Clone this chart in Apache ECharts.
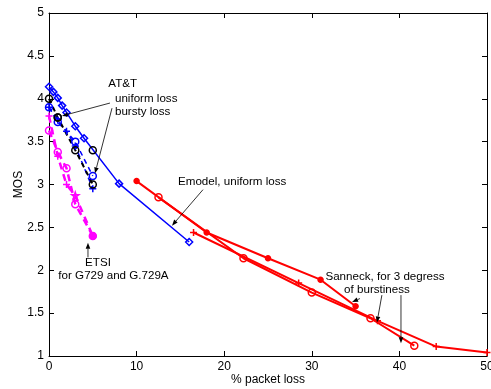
<!DOCTYPE html>
<html><head><meta charset="utf-8">
<script src="https://cdn.jsdelivr.net/npm/echarts@6/dist/echarts.min.js"></script>
<style>html,body{margin:0;padding:0;background:#fff}#c{width:491px;height:389px}</style>
</head><body><div id="c"></div>
<script>
// Axis ticks
const xTicks = [0, 10, 20, 30, 40, 50];
const yTicks = [1, 1.5, 2, 2.5, 3, 3.5, 4, 4.5, 5];

// E-model, uniform loss
const emodel = [[0,4.14],[0.5,4.08],[1,4.01],[1.5,3.92],[2,3.84],[3,3.68],[4,3.54],[8,3.01],[16,2.33]];
// AT&T measurements
const attUniform = [[0,4.0],[1,3.78],[3,3.4],[5,3.0]];
const attExtra = [[1,3.78],[5,3.4]];
const attBurstyA = [[0,3.9],[1,3.73],[3,3.5],[5,3.1]];
const attBurstyB = [[0,3.9],[1,3.75],[2,3.62],[3,3.45],[5,2.95]];
// ETSI, G.729 / G.729A
const etsiA = [[0,3.63],[1,3.38],[2,3.19],[3,2.77],[5,2.4]];
const etsiB = [[0,3.8],[1,3.33],[2,3.0],[3,2.87],[5,2.4]];
// Sanneck, three degrees of burstiness
const sanneckA = [[10,3.04],[18,2.44],[25,2.14],[31,1.89],[35,1.58]];
const sanneckB = [[12.5,2.85],[22.2,2.14],[30,1.74],[36.7,1.44],[41.7,1.12]];
const sanneckC = [[16.5,2.44],[28.5,1.85],[37.5,1.41],[44.2,1.11],[50,1.04]];

const PLUS = 'path://M0,5H10M5,0V10';
const STAR = 'path://M5,0L6.2,3.6L10,3.6L6.9,5.9L8.1,9.5L5,7.3L1.9,9.5L3.1,5.9L0,3.6L3.8,3.6Z';
const FONT = 'Liberation Sans, Arial, sans-serif';

function ser(data, color, dash, width, symbol, size, filled) {
  return {
    type: 'line', data: data, symbol: symbol, symbolSize: size,
    showSymbol: symbol !== 'none', animation: false, silent: true,
    lineStyle: { color: color, width: width, type: dash },
    itemStyle: { color: filled ? color : 'none', borderColor: color, borderWidth: 1.5 },
    z: 3
  };
}
function pts(data, color, symbol, size) {
  const s = ser(data, color, 'solid', 0, symbol, size, false);
  s.lineStyle.opacity = 0;
  return s;
}

const RED = '#ff0000', BLUE = '#0000ff', MAG = '#ff00ff', BLK = '#000000';

const etsiBData = etsiB.map((p, i) => i === 3 ? { value: p, symbol: STAR, symbolSize: 7 } : p);

const series = [
  ser(sanneckA, RED, 'solid', 2, 'circle', 5, true),
  ser(sanneckB, RED, 'solid', 2, 'circle', 7, false),
  ser(sanneckC, RED, 'solid', 2, PLUS, 7, false),
  ser(emodel, BLUE, 'solid', 1.5, 'diamond', 7, false),
  ser(attBurstyA, BLUE, [5, 4], 1.5, 'circle', 7, false),
  ser(attBurstyB, BLUE, [5, 4], 1.5, PLUS, 7, false),
  ser(attUniform, BLK, [5, 4], 2, 'circle', 7, false),
  pts(attExtra, BLK, 'circle', 7),
  ser(etsiA, MAG, [7, 5], 2.5, 'circle', 7, false),
  ser(etsiBData, MAG, [7, 5], 2.5, PLUS, 7, false),
  pts([[5, 2.4]], MAG, 'circle', 6)
];
series[series.length - 1].itemStyle.color = MAG;

const axisCommon = {
  type: 'value', splitLine: { show: false },
  axisLine: { show: true, onZero: false, lineStyle: { color: '#000', width: 1 } },
  axisTick: { show: true, inside: true, length: 5, lineStyle: { color: '#000' } }
};

const chart = echarts.init(document.getElementById('c'), null, { renderer: 'canvas' });
chart.setOption({
  backgroundColor: '#fff',
  animation: false,
  grid: { left: 49, right: 4, top: 13, bottom: 33, containLabel: false, outerBoundsMode: 'none' },
  xAxis: [
    Object.assign({}, axisCommon, {
      min: xTicks[0], max: xTicks[xTicks.length - 1], interval: 10, position: 'bottom',
      name: '% packet loss', nameLocation: 'middle', nameGap: 18, nameMoveOverlap: false,
      nameTextStyle: { fontFamily: FONT, fontSize: 12, color: '#000' },
      axisLabel: { fontFamily: FONT, fontSize: 12, color: '#000', margin: 5 }
    }),
    Object.assign({}, axisCommon, {
      min: xTicks[0], max: xTicks[xTicks.length - 1], interval: 10, position: 'top',
      axisLabel: { show: false }
    })
  ],
  yAxis: [
    Object.assign({}, axisCommon, {
      min: yTicks[0], max: yTicks[yTicks.length - 1], interval: 0.5, position: 'left',
      name: 'MOS', nameLocation: 'middle', nameGap: 24, nameMoveOverlap: false,
      nameTextStyle: { fontFamily: FONT, fontSize: 12, color: '#000' },
      axisLabel: { fontFamily: FONT, fontSize: 12, color: '#000', margin: 5 }
    }),
    Object.assign({}, axisCommon, {
      min: yTicks[0], max: yTicks[yTicks.length - 1], interval: 0.5, position: 'right',
      axisLabel: { show: false }
    })
  ],
  series: series
});

// Annotation texts and arrows, placed in data coordinates
const notes = [
  { t: 'AT&T', at: [6.77, 4.18], align: 'left' },
  { t: 'uniform loss', at: [7.53, 4.0], align: 'left' },
  { t: 'bursty loss', at: [7.53, 3.85], align: 'left' },
  { t: 'Emodel, uniform loss', at: [14.73, 3.03], align: 'left' },
  { t: 'ETSI', at: [5.59, 2.09], align: 'center' },
  { t: 'for G729 and G.729A', at: [7.36, 1.94], align: 'center' },
  { t: 'Sanneck, for 3 degress', at: [38.36, 1.92], align: 'center' },
  { t: 'of burstiness', at: [37.44, 1.77], align: 'center' }
];
const arrows = [
  [[6.96, 3.95], [1.48, 3.80]],
  [[7.19, 3.89], [5.25, 3.13]],
  [[4.45, 2.15], [4.45, 2.32]],
  [[17.58, 2.94], [14.04, 2.52]],
  [[35.5, 1.67], [34.6, 1.63]],
  [[38.0, 1.71], [37.44, 1.39]],
  [[40.18, 1.71], [40.18, 1.15]]
];

const toPx = p => chart.convertToPixel({ gridIndex: 0 }, p);
const graphics = [];
notes.forEach(n => {
  const p = toPx(n.at);
  graphics.push({
    type: 'text', x: p[0], y: p[1], silent: true, z: 10,
    style: { text: n.t, fill: '#000', font: '11.6px ' + FONT, textAlign: n.align, textVerticalAlign: 'middle' }
  });
});
arrows.forEach(a => {
  const s = toPx(a[0]), e = toPx(a[1]);
  const ang = Math.atan2(e[1] - s[1], e[0] - s[0]);
  const L = 6, W = 2.3;
  const bx = e[0] - L * Math.cos(ang), by = e[1] - L * Math.sin(ang);
  graphics.push({
    type: 'line', silent: true, z: 10,
    shape: { x1: s[0], y1: s[1], x2: bx, y2: by },
    style: { stroke: '#000', lineWidth: 0.8 }
  });
  graphics.push({
    type: 'polygon', silent: true, z: 10,
    shape: { points: [e, [bx - W * Math.sin(ang), by + W * Math.cos(ang)], [bx + W * Math.sin(ang), by - W * Math.cos(ang)]] },
    style: { fill: '#000' }
  });
});
chart.setOption({ graphic: graphics });
</script>
</body></html>
